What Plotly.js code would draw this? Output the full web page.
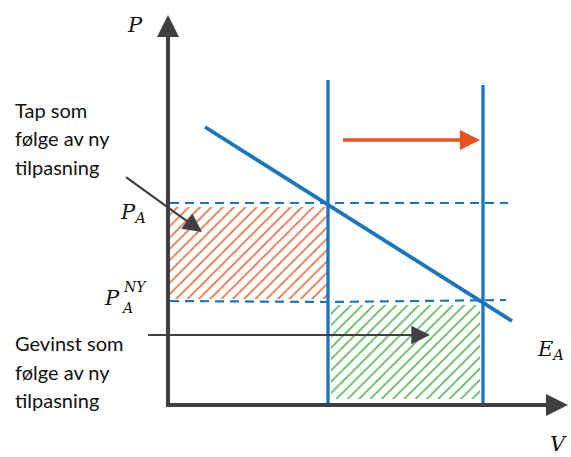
<!DOCTYPE html>
<html><head><meta charset="utf-8">
<script src="https://cdn.plot.ly/plotly-3.0.1.min.js"></script>
<style>html,body{margin:0;padding:0;background:#fff}</style>
</head><body>
<div id="chart" style="width:571px;height:457px"></div>
<script>
// Diagram data (quantity V on x, price P on y), in diagram units
const axisMaxV = 400;          // end of V axis
const axisMaxP = 390;          // end of P axis
const supplyOldV = 160;        // old E_A position
const supplyNewV = 315;        // new E_A position
const supplyTop = [325, 320];  // top of the two vertical lines
const demandV = [37, 344];
const demandP = [278, 84];
const priceLevels = [202, 104];           // P_A, P_A^NY
const lossBox = {v: [2, 159], p: [106, 198]};
const gainBox = {v: [163, 312], p: [6, 100]};
const leftTexts1 = ['Tap som', 'følge av ny', 'tilpasning'];
const leftTexts2 = ['Gevinst som', 'følge av ny', 'tilpasning'];

const blue = '#1a75bc';
const dark = '#404040';
const red = '#e8501e';
const green = '#3aa83a';

function box(b, col) {
  return {
    x: [b.v[0], b.v[1], b.v[1], b.v[0], b.v[0]],
    y: [b.p[0], b.p[0], b.p[1], b.p[1], b.p[0]],
    mode: 'lines', line: {width: 0}, fill: 'toself',
    fillcolor: 'rgba(0,0,0,0)',
    fillpattern: {shape: '/', fgcolor: col, fgopacity: 0.85, bgcolor: 'rgba(0,0,0,0)', size: 8, solidity: 0.2},
    hoverinfo: 'skip', showlegend: false
  };
}

const traces = [
  box(lossBox, red),
  box(gainBox, green),
  // dashed price lines
  {x: [2, 340], y: [priceLevels[0], priceLevels[0]], mode: 'lines',
   line: {color: blue, width: 2.2, dash: '9px,6px'}, showlegend: false, hoverinfo: 'skip'},
  {x: [2, 160, 338], y: [priceLevels[1], priceLevels[1] - 1, priceLevels[1] + 1], mode: 'lines',
   line: {color: blue, width: 2.2, dash: '9px,6px'}, showlegend: false, hoverinfo: 'skip'},
  // supply verticals
  {x: [supplyOldV, supplyOldV], y: [0, supplyTop[0]], mode: 'lines',
   line: {color: blue, width: 3.3}, showlegend: false, hoverinfo: 'skip'},
  {x: [supplyNewV, supplyNewV], y: [0, supplyTop[1]], mode: 'lines',
   line: {color: blue, width: 3.3}, showlegend: false, hoverinfo: 'skip'},
  // demand
  {x: demandV, y: demandP, mode: 'lines',
   line: {color: blue, width: 3.8}, showlegend: false, hoverinfo: 'skip'}
];

const serif = {family: 'DejaVu Serif', size: 21, color: '#111'};
const sans = {family: 'Lato, Open Sans, sans-serif', size: 20, color: '#111'};

const ann = [];
function arrow(x, y, ax, ay, col, w, s) {
  ann.push({x: x, y: y, ax: ax, ay: ay, xref: 'x', yref: 'y', axref: 'x', ayref: 'y',
    showarrow: true, arrowhead: 2, arrowwidth: w, arrowsize: s, arrowcolor: col, text: ' '});
}
// axes
arrow(0, axisMaxP, 0, -2, dark, 4, 1.1);
arrow(axisMaxV, 0, -2, 0, dark, 4, 1.1);
// red shift arrow
arrow(312, 265, 172, 265, red, 3.5, 1.15);
// black pointer arrows
arrow(34, 173, -45, 230, dark, 2.2, 1.7);
arrow(262, 70, -23, 70, dark, 2.2, 1.7);

function txt(x, y, t, f, xa) {
  ann.push({x: x, y: y, xref: 'x', yref: 'y', text: t, showarrow: false, font: f,
    xanchor: xa || 'center', yanchor: 'middle'});
}
txt(-33, 380, '<i>P</i>', serif);
txt(390, -39, '<i>V</i>', serif);
txt(382, 55, '<i>E</i><sub><i>A</i></sub>', serif);
txt(-35, 192, '<i>P</i><sub><i>A</i></sub>', serif);
txt(-56, 107, '<i>P</i>', serif);
txt(-41, 97, '<i>A</i>', {family: 'DejaVu Serif', size: 14, color: '#111'});
txt(-33, 118, '<i>NY</i>', {family: 'DejaVu Serif', size: 14, color: '#111'});

const ys1 = [295, 267, 238];
leftTexts1.forEach((t, i) => txt(-155, ys1[i], t, sans, 'left'));
const ys2 = [62, 33, 5];
leftTexts2.forEach((t, i) => txt(-155, ys2[i], t, sans, 'left'));

const layout = {
  width: 571, height: 457,
  margin: {l: 0, r: 0, t: 0, b: 0},
  paper_bgcolor: '#fff', plot_bgcolor: '#fff',
  xaxis: {range: [-168, 403], visible: false, fixedrange: true},
  yaxis: {range: [-52, 405], visible: false, fixedrange: true},
  shapes: [
    {type: 'line', xref: 'x', yref: 'y', x0: 0, x1: 0, y0: -2, y1: axisMaxP - 10, line: {color: dark, width: 4}},
    {type: 'line', xref: 'x', yref: 'y', x0: -2, x1: axisMaxV - 10, y0: 0, y1: 0, line: {color: dark, width: 4}}
  ],
  annotations: ann,
  showlegend: false
};
Plotly.newPlot('chart', traces, layout, {displayModeBar: false, staticPlot: true});
</script>
</body></html>
